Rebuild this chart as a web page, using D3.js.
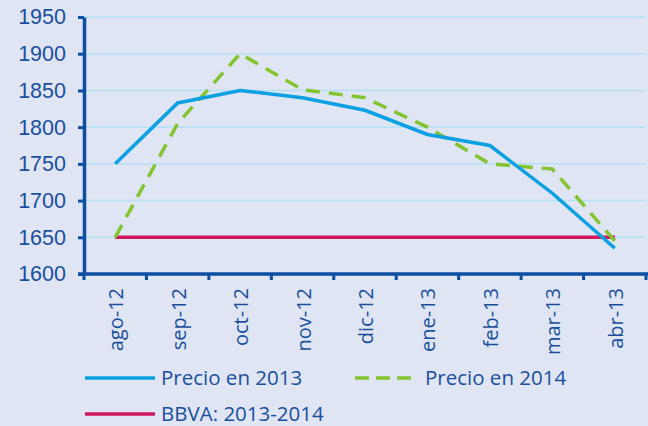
<!DOCTYPE html>
<html>
<head>
<meta charset="utf-8">
<script src="https://cdn.jsdelivr.net/npm/d3@7"></script>
<style>
  body { margin: 0; background: #dfe5f2; }
  svg { display: block; font-family: "Open Sans", "Noto Sans", sans-serif; }
</style>
</head>
<body>
<div id="chart"></div>
<script>
const months = ["ago-12", "sep-12", "oct-12", "nov-12", "dic-12", "ene-13", "feb-13", "mar-13", "abr-13"];
const precio2013 = [1750, 1833, 1850, 1840, 1823, 1790, 1775, 1710, 1635];
const precio2014 = [1650, 1805, 1900, 1851, 1840, 1800, 1750, 1743, 1645];
const bbva = [1650, 1650, 1650, 1650, 1650, 1650, 1650, 1650, 1650];
const yTicks = [1600, 1650, 1700, 1750, 1800, 1850, 1900, 1950];

const series = [
  { name: "Precio en 2013", values: precio2013, color: "#0aa0e2", dash: null },
  { name: "Precio en 2014", values: precio2014, color: "#84c431", dash: "14,9" },
  { name: "BBVA: 2013-2014", values: bbva, color: "#d0175f", dash: null }
];

const width = 648, height = 426;
const margin = { top: 17, left: 84, right: 2, bottom: 152 };
const textColor = "#1a4f9c";
const axisColor = "#0c4ea2";
const fontWeight = 500;

const svg = d3.select("#chart").append("svg")
  .attr("width", width)
  .attr("height", height);

svg.append("rect").attr("width", width).attr("height", height).attr("fill", "#dfe5f2");

const x = d3.scaleBand().domain(months).range([margin.left, width - margin.right]);
const y = d3.scaleLinear().domain([1600, 1950]).range([height - margin.bottom, margin.top]);

// gridlines
svg.append("g").selectAll("line")
  .data(yTicks.slice(1)).enter()
  .append("line")
  .attr("x1", margin.left).attr("x2", width - margin.right)
  .attr("y1", d => y(d)).attr("y2", d => y(d))
  .attr("stroke", "#b3e2f6").attr("stroke-width", 1.5);

// y axis
const yAxis = svg.append("g")
  .attr("transform", `translate(${margin.left},0)`)
  .call(d3.axisLeft(y).tickValues(yTicks).tickFormat(d3.format("d"))
    .tickSize(6).tickPadding(12).tickSizeOuter(0));
yAxis.select(".domain").attr("stroke", axisColor).attr("stroke-width", 3.5);
yAxis.selectAll(".tick line").attr("stroke", axisColor).attr("stroke-width", 3);
yAxis.selectAll(".tick text").attr("fill", textColor).attr("font-size", 21.5).attr("font-weight", fontWeight);

// x axis
const tickPositions = months.map(m => x(m)).concat([x.range()[1]]);
const xAxis = svg.append("g").attr("transform", `translate(0,${y(1600)})`);
xAxis.append("line")
  .attr("x1", margin.left - 6).attr("x2", width)
  .attr("stroke", axisColor).attr("stroke-width", 3.5);
xAxis.selectAll(".tk").data(tickPositions).enter()
  .append("line")
  .attr("x1", d => d).attr("x2", d => d)
  .attr("y1", 0).attr("y2", 6)
  .attr("stroke", axisColor).attr("stroke-width", 3);
xAxis.selectAll("text").data(months).enter()
  .append("text")
  .attr("transform", d => `translate(${x(d) + x.bandwidth() / 2 + 8},${14}) rotate(-90)`)
  .attr("text-anchor", "end")
  .attr("fill", textColor)
  .attr("font-size", 20)
  .attr("font-weight", fontWeight)
  .text(d => d);

// lines
const line = d3.line()
  .x((d, i) => x(months[i]) + x.bandwidth() / 2)
  .y(d => y(d));

svg.append("g").selectAll("path")
  .data(series.slice().reverse()).enter()
  .append("path")
  .attr("d", d => line(d.values))
  .attr("fill", "none")
  .attr("stroke", d => d.color)
  .attr("stroke-width", 3.5)
  .attr("stroke-dasharray", d => d.dash);

// legend
const legendPos = [
  { lx: 85, ly: 378 },
  { lx: 355, ly: 378 },
  { lx: 85, ly: 414 }
];
const legend = svg.append("g").selectAll("g")
  .data(series).enter()
  .append("g")
  .attr("transform", (d, i) => `translate(${legendPos[i].lx},${legendPos[i].ly})`);
legend.append("line")
  .attr("x1", 0).attr("x2", (d, i) => i === 1 ? 58 : 70)
  .attr("stroke", d => d.color)
  .attr("stroke-width", 3.5)
  .attr("stroke-dasharray", d => d.dash ? "14,7" : null);
legend.append("text")
  .attr("x", (d, i) => i === 1 ? 70 : 76)
  .attr("dy", "0.35em")
  .attr("fill", textColor)
  .attr("font-size", 20.5)
  .attr("font-weight", fontWeight)
  .text(d => d.name);
</script>
</body>
</html>
